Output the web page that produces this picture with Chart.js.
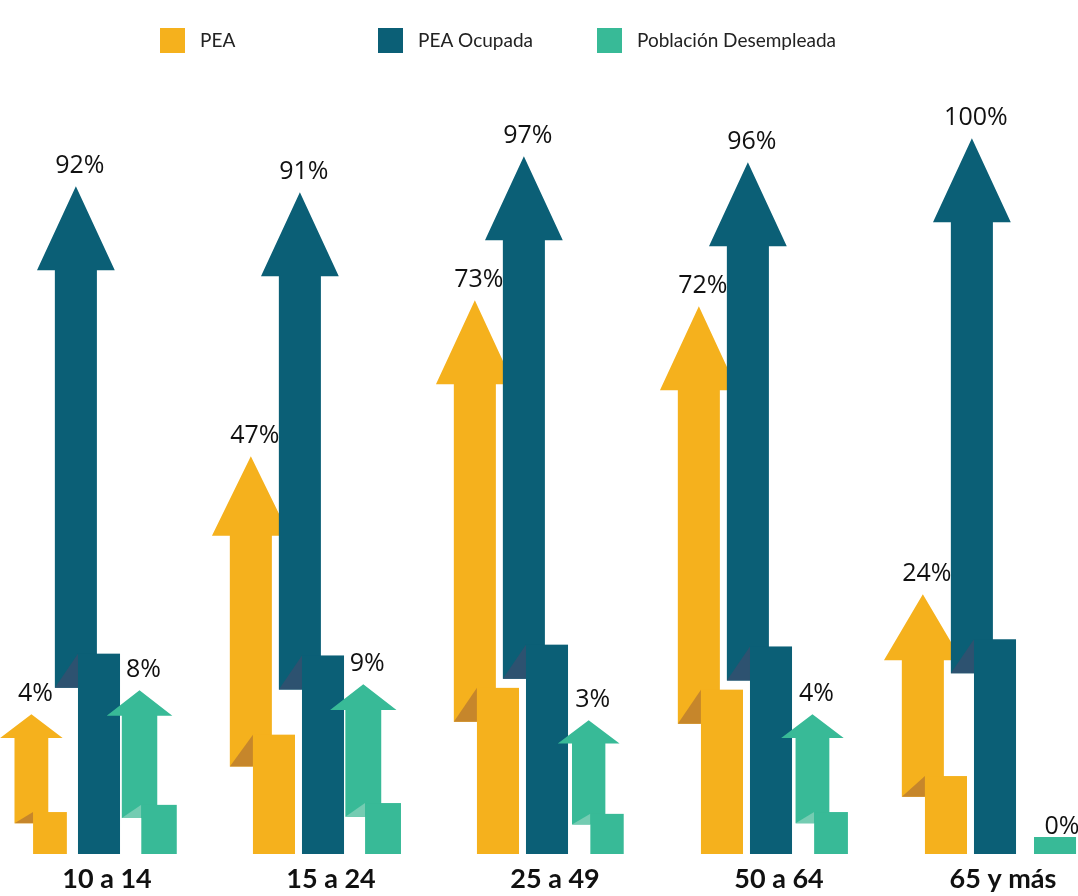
<!DOCTYPE html>
<html lang="es">
<head>
<meta charset="utf-8">
<title>PEA por grupo de edad</title>
<script src="https://cdn.jsdelivr.net/npm/chart.js@4.4.1/dist/chart.umd.min.js"></script>
<style>
  html,body{margin:0;padding:0;background:#fff;}
  #wrap{width:1078px;height:896px;position:relative;}
</style>
</head>
<body>
<div id="wrap"><canvas id="chart"></canvas></div>
<script>
/* === DATOS === */
const categorias = ["10 a 14","15 a 24","25 a 49","50 a 64","65 y más"];
const series = ["PEA","PEA Ocupada","Población Desempleada"];
const pea = [4,47,73,72,24];
const peaOcupada = [92,91,97,96,100];
const desempleada = [8,9,3,4,0];

/* === COLORES === */
const colores = ["#F5B11D","#0B5F76","#38BA97"];
const pliegue = ["#C6862B","#2D5270","#74CCB2"];
const ajusteX = [-2,-8,-3]; // pequeño corrimiento horizontal por serie

/* === FLECHA PLEGADA === */
function dibujarFlecha(ctx, el, base, color, fold, dx){
  const cx = el.x + dx;
  const total = base - el.y;
  const w = Math.min(el.width, 24 + total*0.07);
  const stubH = total*0.3;
  const stubTop = base - stubH;
  const shaftBottom = stubTop + Math.min(34, total*0.08);
  const sx = cx - w*0.55;
  const headH = total >= 250 ? Math.max(66, Math.min(84, total*0.2)) : 14 + total*0.07;
  const headW = w*1.85;
  const headBase = el.y + headH;

  // cuerpo + punta
  ctx.fillStyle = color;
  ctx.beginPath();
  ctx.moveTo(sx - w/2, shaftBottom);
  ctx.lineTo(sx - w/2, headBase);
  ctx.lineTo(sx - headW/2, headBase);
  ctx.lineTo(sx, el.y);
  ctx.lineTo(sx + headW/2, headBase);
  ctx.lineTo(sx + w/2, headBase);
  ctx.lineTo(sx + w/2, shaftBottom);
  ctx.closePath();
  ctx.fill();

  // pliegue
  const stubL = cx - w/2;
  ctx.fillStyle = fold;
  ctx.beginPath();
  ctx.moveTo(stubL, stubTop);
  ctx.lineTo(sx - w/2, shaftBottom);
  ctx.lineTo(stubL, shaftBottom);
  ctx.closePath();
  ctx.fill();

  // tramo inferior
  ctx.fillStyle = color;
  ctx.fillRect(stubL, stubTop, w, stubH);

  return {x: sx + 4, y: el.y - 13};
}

const flechas = {
  id: "flechas",
  beforeDatasetsDraw(){ return false; },
  afterDraw(chart){
    const ctx = chart.ctx;
    const base = chart.chartArea.bottom;
    ctx.save();
    chart.data.datasets.forEach((ds, d) => {
      const meta = chart.getDatasetMeta(d);
      meta.data.forEach((el, i) => {
        const v = ds.data[i];
        let pos;
        if (v === 0) {
          const cx = el.x + ajusteX[d];
          ctx.fillStyle = colores[d];
          ctx.fillRect(cx - el.width/2, base - 17, el.width, 17);
          pos = {x: cx + 7, y: base - 20};
        } else {
          pos = dibujarFlecha(ctx, el, base, colores[d], pliegue[d], ajusteX[d]);
        }
        ds._pos = ds._pos || [];
        ds._pos[i] = pos;
      });
    });
    // etiquetas de valor
    ctx.fillStyle = "#111";
    ctx.font = '25px "Open Sans"';
    ctx.textAlign = "center";
    ctx.textBaseline = "alphabetic";
    chart.data.datasets.forEach(ds => {
      ds.data.forEach((v, i) => ctx.fillText(v + "%", ds._pos[i].x, ds._pos[i].y));
    });
    // leyenda
    const lx = [160, 378, 597];
    ctx.font = '19px Lato';
    ctx.textAlign = "left";
    ctx.textBaseline = "middle";
    series.forEach((s, i) => {
      ctx.fillStyle = colores[i];
      ctx.fillRect(lx[i], 28, 25, 25);
      ctx.fillStyle = "#222";
      ctx.fillText(s, lx[i] + 40, 41);
    });
    ctx.restore();
  }
};

new Chart(document.getElementById("chart"), {
  type: "bar",
  data: {
    labels: categorias,
    datasets: [
      {label: series[0], data: pea, backgroundColor: colores[0]},
      {label: series[1], data: peaOcupada, backgroundColor: colores[1]},
      {label: series[2], data: desempleada, backgroundColor: colores[2]}
    ]
  },
  options: {
    responsive: true,
    maintainAspectRatio: false,
    animation: false,
    categoryPercentage: 0.737,
    barPercentage: 0.764,
    layout: {padding: {top: 65, left: 107, right: 75, bottom: 0}},
    plugins: {legend: {display: false}, tooltip: {enabled: false}},
    scales: {
      x: {
        offset: false,
        grid: {display: false},
        border: {display: false},
        ticks: {color: "#111", padding: 1, autoSkip: false, maxRotation: 0,
                font: {family: "Lato", size: 27, weight: "bold"}},
        afterFit(scale){ scale.height = 42; }
      },
      y: {display: false, min: -19.3, max: 112.2}
    }
  },
  plugins: [flechas]
});
</script>
</body>
</html>
